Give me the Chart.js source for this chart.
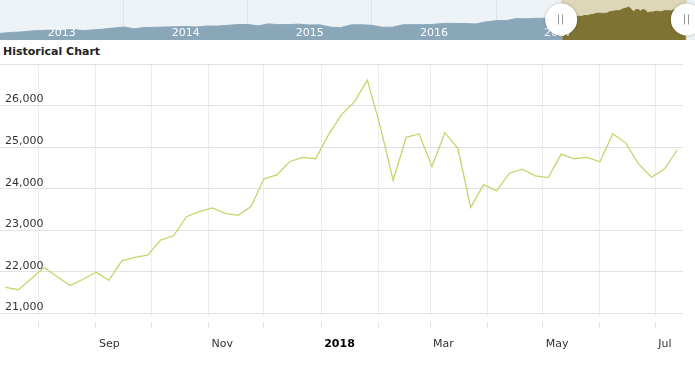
<!DOCTYPE html>
<html>
<head>
<meta charset="utf-8">
<script src="https://cdn.jsdelivr.net/npm/chart.js@4.4.0/dist/chart.umd.min.js"></script>
<style>
  html, body { margin: 0; padding: 0; background: #fff; }
  #wrap { position: relative; width: 695px; height: 377px; overflow: hidden; }
  #nav { position: absolute; left: 0; top: 0; background: #edf2f7; }
  #main { position: absolute; left: 0; top: 40px; }
  #title { position: absolute; left: 3px; top: 45px; font: bold 11px "DejaVu Sans"; color: #222; }
</style>
</head>
<body>
<div id="wrap">
  <canvas id="nav" width="695" height="40" style="width:695px;height:40px"></canvas>
  <div id="title">Historical Chart</div>
  <canvas id="main" width="695" height="337" style="width:695px;height:337px"></canvas>
</div>
<script>
// weekly closes shown in the zoomed window
const weekDates = [
  '2017-07-14', '2017-07-21', '2017-07-28', '2017-08-04', '2017-08-11', '2017-08-18', '2017-08-25',
  '2017-09-01', '2017-09-08', '2017-09-15', '2017-09-22', '2017-09-29',
  '2017-10-06', '2017-10-13', '2017-10-20', '2017-10-27',
  '2017-11-03', '2017-11-10', '2017-11-17', '2017-11-24',
  '2017-12-01', '2017-12-08', '2017-12-15', '2017-12-22', '2017-12-29',
  '2018-01-05', '2018-01-12', '2018-01-19', '2018-01-26',
  '2018-02-02', '2018-02-09', '2018-02-16', '2018-02-23',
  '2018-03-02', '2018-03-09', '2018-03-16', '2018-03-23', '2018-03-30',
  '2018-04-06', '2018-04-13', '2018-04-20', '2018-04-27',
  '2018-05-04', '2018-05-11', '2018-05-18', '2018-05-25',
  '2018-06-01', '2018-06-08', '2018-06-15', '2018-06-22', '2018-06-29',
  '2018-07-06', '2018-07-13'
];
const closes = [
  21628, 21570, 21840, 22104, 21880, 21669, 21821,
  21990, 21797, 22263, 22345, 22400,
  22763, 22867, 23326, 23447,
  23536, 23407, 23359, 23568,
  24237, 24333, 24655, 24751, 24720,
  25300, 25783, 26089, 26613,
  25500, 24196, 25234, 25316,
  24534, 25348, 24969, 23551, 24097,
  23947, 24372, 24469, 24308,
  24268, 24831, 24720, 24751,
  24647, 25324, 25097, 24589, 24275,
  24477, 24937
];

// monthly history for the navigator strip
const navDates = [
  '2013-01-01', '2013-02-01', '2013-03-01', '2013-04-01', '2013-05-01', '2013-06-01',
  '2013-07-01', '2013-08-01', '2013-09-01', '2013-10-01', '2013-11-01', '2013-12-01',
  '2014-01-01', '2014-02-01', '2014-03-01', '2014-04-01', '2014-05-01', '2014-06-01',
  '2014-07-01', '2014-08-01', '2014-09-01', '2014-10-01', '2014-11-01', '2014-12-01',
  '2015-01-01', '2015-02-01', '2015-03-01', '2015-04-01', '2015-05-01', '2015-06-01',
  '2015-07-01', '2015-08-01', '2015-09-01', '2015-10-01', '2015-11-01', '2015-12-01',
  '2016-01-01', '2016-02-01', '2016-03-01', '2016-04-01', '2016-05-01', '2016-06-01',
  '2016-07-01', '2016-08-01', '2016-09-01', '2016-10-01', '2016-11-01', '2016-12-01',
  '2017-01-01', '2017-02-01', '2017-03-01', '2017-04-01', '2017-05-01', '2017-06-01',
  '2017-07-01'
];
const navCloses = [
  13412, 13860, 14054, 14578, 14840, 15115,
  14910, 15500, 14810, 15130, 15546, 16086,
  16577, 15699, 16322, 16458, 16581, 16717,
  16827, 16563, 17098, 17043, 17391, 17828,
  17823, 17165, 18133, 17776, 17841, 18011,
  17620, 17690, 16528, 16285, 17664, 17720,
  17425, 16466, 16517, 17685, 17774, 17787,
  17930, 18432, 18401, 18308, 18142, 19124,
  19763, 19864, 20812, 20663, 20941, 21009,
  21350
];

const monthTicks = ['2017-08-01', '2017-09-01', '2017-10-01', '2017-11-01', '2017-12-01', '2018-01-01',
  '2018-02-01', '2018-03-01', '2018-04-01', '2018-05-01', '2018-06-01', '2018-07-01'];
const monthLabels = ['', 'Sep', '', 'Nov', '', '2018', '', 'Mar', '', 'May', '', 'Jul'];
const yTicks = [21000, 22000, 23000, 24000, 25000, 26000, 27000];
const yearTicks = ['2014-01-01', '2015-01-01', '2016-01-01', '2017-01-01', '2018-01-01'];
const yearLabels = ['2013', '2014', '2015', '2016', '2017'];

const viewStart = '2017-07-11', viewEnd = '2018-07-16';
const navStart = '2013-01-01', navEnd = '2018-08-09';

const BASE = Date.UTC(2018, 0, 1);
function day(s) {
  const p = s.split('-').map(Number);
  return (Date.UTC(p[0], p[1] - 1, p[2]) - BASE) / 86400000;
}

const FONT = 'DejaVu Sans';
const weekly = weekDates.map((d, i) => ({ x: day(d), y: closes[i] }));

// ---- navigator ----
const navDecor = {
  id: 'navDecor',
  beforeDatasetsDraw(chart) {
    const { ctx, chartArea: a, scales: { x } } = chart;
    const x1 = x.getPixelForValue(day(viewStart)), x2 = x.getPixelForValue(day(viewEnd));
    ctx.save();
    ctx.fillStyle = '#dcd7b6';
    ctx.fillRect(x1, a.top, x2 - x1, a.bottom - a.top);
    ctx.restore();
  },
  afterDraw(chart) {
    const { ctx, scales: { x } } = chart;
    ctx.save();
    ctx.fillStyle = '#fff';
    ctx.font = '11px "' + FONT + '"';
    ctx.textAlign = 'center';
    yearLabels.forEach(y => {
      ctx.fillText(y, x.getPixelForValue(day(y + '-07-02')), 36);
    });
    ctx.restore();
    [day(viewStart), day(viewEnd)].forEach(v => {
      const cx = x.getPixelForValue(v), cy = 19.5;
      ctx.save();
      ctx.shadowColor = 'rgba(0,0,0,0.25)';
      ctx.shadowBlur = 3;
      ctx.beginPath();
      ctx.arc(cx, cy, 16, 0, Math.PI * 2);
      ctx.fillStyle = '#fff';
      ctx.fill();
      ctx.restore();
      ctx.save();
      ctx.strokeStyle = '#999';
      ctx.lineWidth = 1;
      ctx.beginPath();
      ctx.moveTo(Math.round(cx) - 2.5, cy - 5); ctx.lineTo(Math.round(cx) - 2.5, cy + 5);
      ctx.moveTo(Math.round(cx) + 1.5, cy - 5); ctx.lineTo(Math.round(cx) + 1.5, cy + 5);
      ctx.stroke();
      ctx.restore();
    });
  }
};

new Chart(document.getElementById('nav'), {
  type: 'line',
  data: {
    datasets: [
      {
        data: navDates.map((d, i) => ({ x: day(d), y: navCloses[i] })).concat([weekly[0]]),
        borderColor: '#8aa7ba',
        backgroundColor: '#8aa7ba',
        borderWidth: 1,
        pointRadius: 0,
        fill: 'start'
      },
      {
        data: weekly,
        borderColor: '#7e7332',
        backgroundColor: '#7e7332',
        borderWidth: 1,
        pointRadius: 0,
        fill: 'start'
      }
    ]
  },
  options: {
    responsive: false,
    animation: false,
    events: [],
    layout: { padding: 0 },
    plugins: { legend: { display: false }, tooltip: { enabled: false } },
    scales: {
      x: {
        type: 'linear', min: day(navStart), max: day(navEnd), z: 1,
        afterBuildTicks: s => { s.ticks = yearTicks.map(d => ({ value: day(d) })); },
        grid: { color: 'rgba(214,224,232,0.8)', drawTicks: false },
        border: { display: false },
        ticks: { display: false }
      },
      y: { display: false, min: 10100, max: 30100 }
    }
  },
  plugins: [navDecor]
});

// ---- main chart ----
new Chart(document.getElementById('main'), {
  type: 'line',
  data: {
    datasets: [{
      label: 'Close',
      data: weekly,
      borderColor: '#c2d66a',
      borderWidth: 1.3,
      pointRadius: 0,
      fill: false,
      tension: 0
    }]
  },
  options: {
    responsive: false,
    animation: false,
    events: [],
    layout: { padding: { left: 0, right: 12, top: 24, bottom: 17 } },
    plugins: { legend: { display: false }, tooltip: { enabled: false } },
    scales: {
      x: {
        type: 'linear', min: day(viewStart), max: day(viewEnd),
        afterBuildTicks: s => { s.ticks = monthTicks.map(d => ({ value: day(d) })); },
        grid: { color: '#ececec', tickColor: '#e4e4e4', tickLength: 11, tickBorderDash: [0, 5, 6, 50] },
        border: { display: false },
        ticks: {
          align: 'start', labelOffset: 3, padding: 9.4, maxRotation: 0, autoSkip: false,
          callback: (v, i) => monthLabels[i],
          color: c => monthLabels[c.index] === '2018' ? '#000' : '#333',
          font: c => ({ family: FONT, size: 11, weight: monthLabels[c.index] === '2018' ? 'bold' : 'normal' })
        }
      },
      y: {
        min: 20913, max: 27000,
        afterBuildTicks: s => { s.ticks = yTicks.map(v => ({ value: v })); },
        afterFit: s => { s.width = 0; },
        grid: { color: '#e2e2e2', drawTicks: false },
        border: { display: false },
        ticks: {
          mirror: true, padding: 5, labelOffset: -6, color: '#333',
          font: { family: FONT, size: 11 },
          callback: v => v === 27000 ? '' : v.toLocaleString('en-US')
        }
      }
    }
  }
});
</script>
</body>
</html>
